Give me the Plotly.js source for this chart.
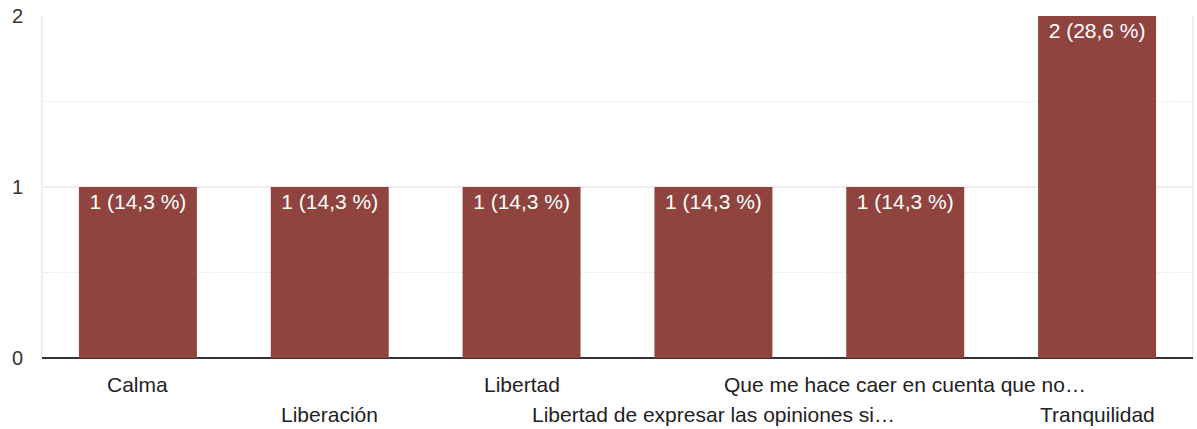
<!DOCTYPE html>
<html>
<head>
<meta charset="utf-8">
<script src="https://cdn.plot.ly/plotly-3.0.1.min.js"></script>
<style>html,body{margin:0;padding:0;background:#fff;}#chart{width:1197px;height:429px;}</style>
</head>
<body>
<div id="chart"></div>
<script>
const categories = ["Calma", "Liberación", "Libertad", "Libertad de expresar las opiniones si…", "Que me hace caer en cuenta que no…", "Tranquilidad"];
const counts = [1, 1, 1, 1, 1, 2];
const barLabels = ["1 (14,3 %)", "1 (14,3 %)", "1 (14,3 %)", "1 (14,3 %)", "1 (14,3 %)", "2 (28,6 %)"];
const yTicks = [0, 1, 2];

const FONT = "Liberation Sans, Arial, sans-serif";

const trace = {
  type: "bar",
  x: categories,
  y: counts,
  text: barLabels,
  textposition: "inside",
  insidetextanchor: "end",
  textangle: 0,
  textfont: {family: FONT, size: 21, color: "#ffffff"},
  marker: {color: "#8f4440"},
  hoverinfo: "skip",
  cliponaxis: false
};

const annotations = categories.map((c, i) => ({
  x: c, y: 0, xref: "x", yref: "y",
  text: c, showarrow: false,
  yanchor: "middle", xanchor: "center",
  yshift: i % 2 === 0 ? -26 : -56,
  font: {family: FONT, size: 21, color: "#222222"}
}));

const layout = {
  width: 1197, height: 429,
  margin: {l: 42, r: 4, t: 16, b: 71},
  paper_bgcolor: "#ffffff",
  plot_bgcolor: "#ffffff",
  bargap: 0.385,
  showlegend: false,
  xaxis: {
    type: "category",
    showticklabels: false,
    showgrid: false,
    zeroline: false,
    showline: false,
    fixedrange: true
  },
  yaxis: {
    range: [0, 2],
    tickvals: yTicks,
    ticktext: yTicks.map(String),
    tickfont: {family: FONT, size: 20, color: "#333333"},
    ticklabelstandoff: 18,
    showgrid: true,
    gridcolor: "#eeeeee",
    gridwidth: 2,
    minor: {dtick: 0.5, showgrid: true, gridcolor: "#f2f2f2", gridwidth: 1},
    zeroline: true,
    zerolinecolor: "#333333",
    zerolinewidth: 2,
    showline: false,
    fixedrange: true
  },
  shapes: [
    {type: "line", xref: "paper", yref: "paper", x0: 0, x1: 0, y0: 0, y1: 1, line: {color: "#eeeeee", width: 2}, layer: "below"},
    {type: "line", xref: "paper", yref: "paper", x0: 1, x1: 1, y0: 0, y1: 1, line: {color: "#eeeeee", width: 2}, layer: "below"}
  ],
  annotations: annotations
};

Plotly.newPlot("chart", [trace], layout, {displayModeBar: false, staticPlot: true});
</script>
</body>
</html>
